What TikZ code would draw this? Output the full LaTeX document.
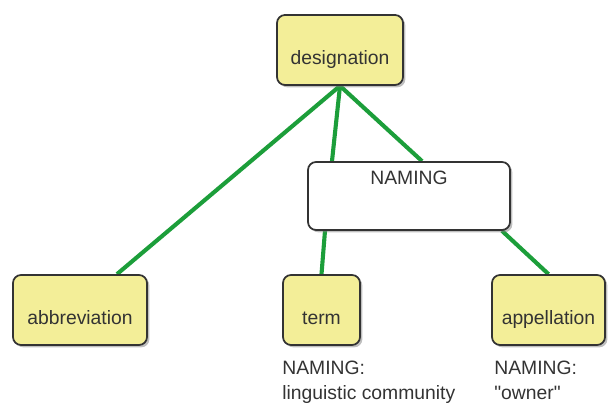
\documentclass[tikz,border=0pt]{standalone}
\usepackage{fontspec}
\setmainfont{Liberation Sans}[Ligatures=TeXOff]
\usepackage{tikz}
\usetikzlibrary{shadows,backgrounds}

\definecolor{boxyellow}{HTML}{F3EE98}
\definecolor{linkgreen}{HTML}{1C9E3A}
\definecolor{edgegray}{HTML}{333333}
\definecolor{txtgray}{HTML}{333333}

\begin{document}
\begin{tikzpicture}[
  concept/.style={draw=edgegray,line width=1.5pt,rounded corners=0.24cm,fill=boxyellow,minimum height=2.1cm,inner sep=0pt,text height=0.9cm,text depth=0pt,text=txtgray,font=\fontsize{16.5}{20}\selectfont,drop shadow={shadow xshift=0.07cm,shadow yshift=-0.07cm,opacity=0.5}},
  group/.style={draw=edgegray,line width=1.5pt,rounded corners=0.24cm,fill=white,minimum width=6.06cm,minimum height=2.04cm,inner sep=0pt,text height=0.41cm,text depth=1.07cm,text=txtgray,font=\fontsize{16.5}{20}\selectfont,drop shadow={shadow xshift=0.07cm,shadow yshift=-0.07cm,opacity=0.5}},
  note/.style={anchor=north west,align=left,inner sep=0pt,text=txtgray,font=\fontsize{16.5}{21.5}\selectfont},
  link/.style={draw=linkgreen,line width=3.5pt}]
\useasboundingbox (0,0) rectangle (18.33,12.24);

% concepts
\node[concept,minimum width=3.78cm] (desig) at (10.2,10.74) {designation};
\node[group] (naming) at (12.27,6.36) {NAMING};
\node[concept,minimum width=4.02cm] (abbrev) at (2.4,2.94) {abbreviation};
\node[concept,minimum width=2.31cm] (term) at (9.645,2.94) {term};
\node[concept,minimum width=3.39cm] (appel) at (16.455,2.94) {appellation};

% notes under the boxes
\node[note] (term_note) at ([yshift=-0.45cm]term.south west) {NAMING:\\linguistic community};
\node[note] (appel_note) at ([xshift=0.09cm,yshift=-0.45cm]appel.south west) {NAMING:\\"owner"};

% links
\begin{scope}[on background layer]
\draw[link] (desig.south)--([xshift=1.11cm]abbrev.north);
\draw[link] (desig.south)--([xshift=-2.31cm]naming.north);
\draw[link] (desig.south)--([xshift=0.39cm]naming.north);
\draw[link] ([xshift=-2.52cm]naming.south)--(term.north);
\draw[link] ([xshift=2.79cm]naming.south)--(appel.north);
\end{scope}
\end{tikzpicture}
\end{document}
